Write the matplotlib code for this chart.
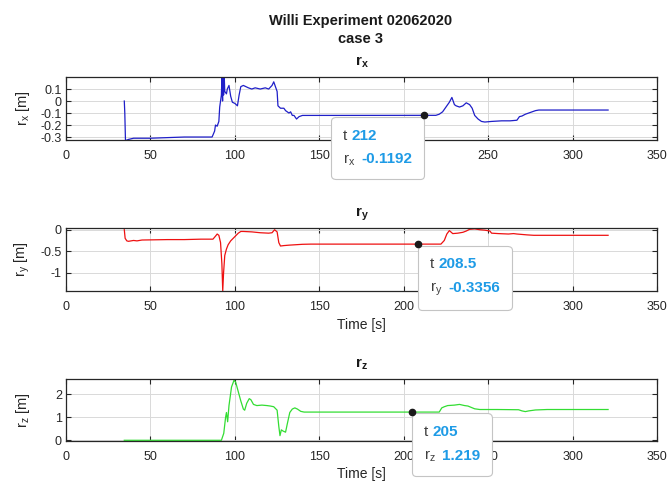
import matplotlib
matplotlib.use('Agg')
import matplotlib.pyplot as plt
from matplotlib.offsetbox import TextArea, HPacker, VPacker, AnnotationBbox

plt.rcParams['font.family'] = ['Liberation Sans', 'DejaVu Sans']
plt.rcParams['mathtext.fontset'] = 'custom'
plt.rcParams['mathtext.rm'] = 'Liberation Sans'
plt.rcParams['mathtext.bf'] = 'Liberation Sans:bold'
plt.rcParams['mathtext.it'] = 'Liberation Sans:italic'

# r_x (blue)
t_x = [34.5, 34.8, 35.2, 37, 40, 50, 60, 70, 80, 86.5, 88, 88.5, 89.5, 90.5, 91, 92,
       92.3, 92.7, 93, 93.3, 93.7, 94, 95, 95.5, 96.5, 97.5, 98.5, 100, 101.5, 102.5,
       103.5, 105, 108, 110, 112, 115, 118, 120, 122, 123, 124, 125, 125.5, 127, 129,
       130, 131, 132, 133, 134, 135, 136.5, 138, 140, 212, 219, 221, 223, 225, 227,
       228.5, 230, 231, 233, 235, 237, 239, 240.5, 242, 244, 246, 248, 252, 258, 263,
       267, 268.5, 270, 272, 274, 276, 278, 280, 321]
r_x = [0.0, -0.1, -0.33, -0.32, -0.31, -0.31, -0.305, -0.30, -0.30, -0.30, -0.25, -0.2,
       -0.21, -0.17, -0.05, 0.05, 0.2, 0.0, 0.2, 0.05, 0.2, 0.08, 0.06, 0.1, 0.13, 0.04,
       -0.01, -0.02, -0.04, 0.05, 0.12, 0.13, 0.11, 0.1, 0.11, 0.1, 0.11, 0.1, 0.13, 0.16,
       0.12, 0.08, -0.04, -0.06, -0.06, -0.08, -0.09, -0.1, -0.09, -0.12, -0.12, -0.15,
       -0.13, -0.12, -0.1192, -0.1192, -0.11, -0.09, -0.05, -0.01, 0.03, -0.03, -0.04,
       -0.05, -0.04, -0.015, -0.03, -0.06, -0.12, -0.15, -0.17, -0.175, -0.17, -0.165,
       -0.165, -0.16, -0.13, -0.125, -0.11, -0.1, -0.09, -0.08, -0.075, -0.075]

# r_y (red)
t_y = [34.5, 35, 36, 37, 40, 42, 45, 60, 70, 80, 87, 88.5, 89.5, 90.5, 91.5, 92.3, 92.8,
       93.3, 94, 95, 96, 97.5, 99, 100.5, 102, 103.5, 105, 110, 115, 120, 122, 123.5, 125,
       126, 127, 129, 132, 136, 140, 145, 222, 224, 225.5, 227, 229, 232, 235, 237, 239,
       242, 245, 248, 251, 252, 256, 262, 265, 267, 270, 273, 277, 280, 321]
r_y = [0.0, -0.2, -0.26, -0.27, -0.25, -0.26, -0.24, -0.23, -0.23, -0.22, -0.22, -0.15,
       -0.1, -0.13, -0.3, -0.8, -1.43, -1.0, -0.6, -0.45, -0.35, -0.26, -0.2, -0.14, -0.08,
       -0.04, -0.04, -0.05, -0.07, -0.08, -0.07, 0.0, -0.05, -0.3, -0.38, -0.37, -0.36,
       -0.35, -0.34, -0.3356, -0.3356, -0.25, -0.1, -0.02, -0.09, -0.08, -0.06, -0.03,
       0.01, 0.02, 0.0, -0.01, -0.03, -0.08, -0.09, -0.1, -0.09, -0.1, -0.11, -0.12,
       -0.13, -0.13, -0.13]

# r_z (green)
t_z = [34.5, 92, 93.4, 94.5, 95, 95.7, 96.5, 98, 99.5, 100.5, 102, 103.5, 105, 105.8, 107,
       108.5, 109.5, 111, 113, 116, 119, 121, 123, 125, 126, 126.7, 127.5, 128.5, 130, 131,
       132.5, 134, 135.5, 137, 139, 141, 221, 222.5, 224, 226, 230, 233, 236, 238, 240,
       242, 245, 255, 268, 270, 272, 274, 278, 285, 321]
r_z = [0.0, 0.0, 0.3, 1.0, 1.2, 0.8, 1.5, 2.3, 2.6, 2.5, 2.1, 1.7, 1.35, 1.3, 1.6, 1.8,
       1.75, 1.55, 1.5, 1.52, 1.5, 1.48, 1.45, 1.3, 0.6, 0.2, 0.45, 0.4, 0.35, 0.7, 1.2,
       1.35, 1.4, 1.35, 1.25, 1.219, 1.219, 1.4, 1.45, 1.5, 1.52, 1.55, 1.5, 1.48, 1.42,
       1.36, 1.33, 1.33, 1.32, 1.27, 1.24, 1.27, 1.31, 1.33, 1.33]

tip_t = [212, 208.5, 205]
tip_v = [-0.1192, -0.3356, 1.219]

names = ['x', 'y', 'z']
colors = ['#1f1fc8', '#ee1111', '#33dd33']
yticks = [[-0.3, -0.2, -0.1, 0, 0.1], [-1, -0.5, 0], [0, 1, 2]]
ylims = [(-0.325, 0.2), (-1.43, 0.04), (-0.03, 2.65)]
xticks = [0, 50, 100, 150, 200, 250, 300, 350]

fig = plt.figure(figsize=(6.67, 4.83), dpi=100)
pos = [[0.099, 0.7101, 0.8861, 0.1304],
       [0.099, 0.3975, 0.8861, 0.1304],
       [0.099, 0.0870, 0.8861, 0.1284]]

fig.text(0.541, 1 - 21 / 483, 'Willi Experiment 02062020', ha='center', va='center',
         fontsize=10.5, weight='bold', color='#1a1a1a')
fig.text(0.541, 1 - 39 / 483, 'case 3', ha='center', va='center',
         fontsize=10.5, weight='bold', color='#1a1a1a')

gray = '#404040'
blue = '#1e9be6'
PAD = 0.85  # box padding, fraction of 10 pt

def datatip(ax, t, v, name, align):
    l1 = HPacker(children=[TextArea('t', textprops=dict(color=gray, size=11)),
                           TextArea('%g' % t, textprops=dict(color=blue, size=11, weight='bold'))],
                 sep=3, align='baseline', pad=0)
    l2 = HPacker(children=[TextArea(r'$\mathrm{r_%s}$' % name, textprops=dict(color=gray, size=11)),
                           TextArea('%g' % v, textprops=dict(color=blue, size=11, weight='bold'))],
                 sep=4, align='baseline', pad=0)
    box = VPacker(children=[l1, l2], sep=7, align='left', pad=0)
    shift = PAD * 10
    dx = -shift if align[0] == 1 else shift
    ab = AnnotationBbox(box, (t, v), xybox=(dx, -shift - 1), boxcoords='offset points',
                        box_alignment=align, frameon=True, pad=0,
                        bboxprops=dict(boxstyle='round,pad=%g,rounding_size=0.3' % PAD,
                                       fc='white', ec='#c4c4c4', lw=0.8),
                        annotation_clip=False, zorder=10)
    ax.add_artist(ab)
    ax.plot([t], [v], 'o', color='#1a1a1a', ms=4.5, zorder=11, clip_on=False)

data = [(t_x, r_x), (t_y, r_y), (t_z, r_z)]
aligns = [(1, 1), (0, 1), (0, 1)]
for i in range(3):
    ax = fig.add_axes(pos[i])
    ax.plot(data[i][0], data[i][1], color=colors[i], lw=0.9)
    ax.set_xlim(0, 350)
    ax.set_ylim(*ylims[i])
    ax.set_xticks(xticks)
    ax.set_yticks(yticks[i])
    ax.set_yticklabels(['%g' % y for y in yticks[i]])
    ax.grid(True, color='#d9d9d9', lw=0.7)
    ax.set_axisbelow(True)
    ax.tick_params(direction='in', top=True, right=True, length=3.5, width=0.8,
                   labelsize=9, colors='#262626', pad=7)
    ax.tick_params(axis='y', pad=3)
    for s in ax.spines.values():
        s.set_color('#262626')
        s.set_linewidth(0.9)
    ax.set_title(r'$\mathbf{r_%s}$' % names[i], fontsize=11, pad=8, color='#1a1a1a')
    ax.set_ylabel(r'$\mathrm{r_%s}$ [m]' % names[i], fontsize=10.5, color='#262626')
    ax.yaxis.set_label_coords(-0.058, 0.5)
    if i > 0:
        ax.set_xlabel('Time [s]', fontsize=10, color='#262626')
        ax.xaxis.set_label_coords(0.5, -0.54)
        ax.xaxis.label.set_va('center')
    datatip(ax, tip_t[i], tip_v[i], names[i], aligns[i])

fig.savefig('out.png', dpi=100)
